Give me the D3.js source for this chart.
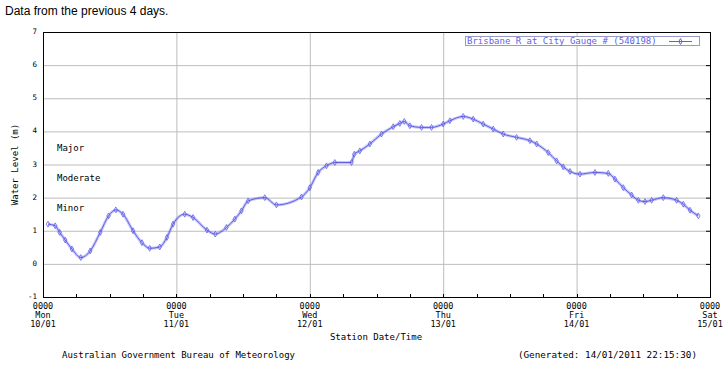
<!DOCTYPE html>
<html>
<head>
<meta charset="utf-8">
<script src="https://cdn.jsdelivr.net/npm/d3@7"></script>
<style>
  body { margin: 0; background: #fff; }
  svg text { font-family: "DejaVu Sans Mono", monospace; }
</style>
</head>
<body>
<svg id="chart" width="728" height="366"></svg>
<script>
// hours since Mon 10/01 00:00, water level (m)
const hours = [0.9, 2.2, 3.0, 4.0, 5.2, 6.8, 8.5, 10.3, 11.8, 13.1, 14.4, 16.2, 17.8, 19.2, 21.0, 22.3, 23.4,
  25.5, 27.0, 29.5, 31.0, 33.0, 34.5, 35.7, 36.9, 39.9, 42.0, 46.5, 48.0, 49.5, 51.0, 52.5, 55.5, 56.0, 57.0,
  58.8, 60.9, 63.0, 64.2, 65.0, 66.0, 68.1, 69.9, 72.0, 73.2, 75.6, 77.4, 79.2, 81.0, 82.8, 85.2, 87.6, 88.8,
  90.9, 92.4, 93.6, 94.8, 96.6, 99.3, 101.7, 102.9, 104.4, 105.9, 107.1, 108.3, 109.5, 111.6, 114.0, 115.2,
  116.4, 117.9];
const levels = [1.2, 1.15, 0.95, 0.72, 0.45, 0.19, 0.39, 0.95, 1.45, 1.63, 1.5, 1.0, 0.64, 0.47, 0.51, 0.8, 1.2,
  1.5, 1.4, 1.02, 0.9, 1.1, 1.35, 1.6, 1.9, 2.0, 1.78, 2.02, 2.3, 2.76, 2.96, 3.06, 3.06, 3.31, 3.41,
  3.62, 3.92, 4.14, 4.24, 4.3, 4.17, 4.12, 4.12, 4.22, 4.32, 4.45, 4.37, 4.22, 4.07, 3.92, 3.82, 3.72, 3.62,
  3.36, 3.11, 2.93, 2.79, 2.71, 2.76, 2.73, 2.56, 2.3, 2.08, 1.92, 1.88, 1.92, 2.0, 1.92, 1.8,
  1.62, 1.45];

const dayNames = ["Mon", "Tue", "Wed", "Thu", "Fri", "Sat"];
const dayDates = ["10/01", "11/01", "12/01", "13/01", "14/01", "15/01"];
const yTicks = [-1, 0, 1, 2, 3, 4, 5, 6, 7];
const floodLabels = ["Minor", "Moderate", "Major"];
const floodLevels = [1.7, 2.6, 3.5];

const blue = "#5f5fe8";
const svg = d3.select("#chart");

const x = d3.scaleLinear().domain([0, 120]).range([43, 710]);
const y = d3.scaleLinear().domain([-1, 7]).range([297, 32]);

// title
svg.append("text")
    .attr("x", 5).attr("y", 15)
    .style("font-family", "'Liberation Sans', Arial, sans-serif")
    .style("font-size", "12px")
    .text("Data from the previous 4 days.");

// grid
svg.append("g").selectAll("line")
    .data(yTicks.slice(1, -1))
    .join("line")
    .attr("x1", x(0)).attr("x2", x(120))
    .attr("y1", d => y(d) + 0.5).attr("y2", d => y(d) + 0.5)
    .attr("stroke", "#bdbdbd");

svg.append("g").selectAll("line")
    .data([24, 48, 72, 96])
    .join("line")
    .attr("x1", d => x(d) + 0.5).attr("x2", d => x(d) + 0.5)
    .attr("y1", y(7)).attr("y2", y(-1))
    .attr("stroke", "#bdbdbd");

// frame
svg.append("rect")
    .attr("x", x(0) + 0.5).attr("y", y(7) + 0.5)
    .attr("width", x(120) - x(0)).attr("height", y(-1) - y(7))
    .attr("fill", "none").attr("stroke", "#000");

// minor ticks every 6 hours on the bottom
svg.append("g").selectAll("line")
    .data(d3.range(6, 120, 6))
    .join("line")
    .attr("x1", d => Math.round(x(d)) + 0.5).attr("x2", d => Math.round(x(d)) + 0.5)
    .attr("y1", y(-1)).attr("y2", y(-1) - 3)
    .attr("stroke", "#000");

// ticks on the right
svg.append("g").selectAll("line")
    .data(yTicks.slice(1, -1))
    .join("line")
    .attr("x1", x(120)).attr("x2", x(120) - 4)
    .attr("y1", d => y(d) + 0.5).attr("y2", d => y(d) + 0.5)
    .attr("stroke", "#000");

// y tick labels
svg.append("g").selectAll("text")
    .data(yTicks)
    .join("text")
    .attr("x", 37).attr("y", d => y(d) + 2)
    .attr("text-anchor", "end")
    .style("font-size", "7.5px")
    .text(d => d);

// x labels
const xl = svg.append("g").selectAll("g")
    .data(dayNames)
    .join("g")
    .attr("transform", (d, i) => `translate(${x(i * 24)},0)`);
xl.append("text").attr("y", 308.5).text("0000");
xl.append("text").attr("y", 317.5).text(d => d);
xl.append("text").attr("y", 327).text((d, i) => dayDates[i]);
xl.selectAll("text").attr("text-anchor", "middle").style("font-size", "8.5px");

// axis titles
svg.append("text")
    .attr("x", 376).attr("y", 340)
    .attr("text-anchor", "middle")
    .style("font-size", "9px")
    .text("Station Date/Time");

svg.append("text")
    .attr("transform", `translate(18,${(y(7) + y(-1)) / 2}) rotate(-90)`)
    .attr("text-anchor", "middle")
    .style("font-size", "9px")
    .text("Water Level (m)");

// flood classification labels
svg.append("g").selectAll("text")
    .data(floodLabels)
    .join("text")
    .attr("x", 57).attr("y", (d, i) => y(floodLevels[i]) + 3)
    .style("font-size", "9px")
    .text(d => d);

// series
const pts = hours.map((h, i) => [h, levels[i]]);
const line = d3.line()
    .x(d => x(d[0])).y(d => y(d[1]))
    .curve(d3.curveMonotoneX);

svg.append("path")
    .datum(pts)
    .attr("d", line)
    .attr("fill", "none")
    .attr("stroke", blue)
    .attr("stroke-opacity", 0.35)
    .attr("stroke-width", 3);

svg.append("path")
    .datum(pts)
    .attr("d", line)
    .attr("fill", "none")
    .attr("stroke", blue)
    .attr("stroke-width", 1);

const diamond = d3.symbol().type(d3.symbolDiamond).size(10);
svg.append("g").selectAll("path")
    .data(pts)
    .join("path")
    .attr("transform", d => `translate(${x(d[0])},${y(d[1])})`)
    .attr("d", diamond)
    .attr("fill", "none")
    .attr("stroke", blue)
    .attr("stroke-width", 0.8);

// legend
const lg = svg.append("g");
lg.append("rect")
    .attr("x", 465.5).attr("y", 36.5)
    .attr("width", 234).attr("height", 9)
    .attr("fill", "#fff").attr("stroke", "#9a9ac8");
lg.append("text")
    .attr("x", 467).attr("y", 44)
    .style("font-size", "9px")
    .attr("fill", blue)
    .text("Brisbane R at City Gauge # (540198)");
lg.append("line")
    .attr("x1", 669).attr("x2", 692)
    .attr("y1", 41.5).attr("y2", 41.5)
    .attr("stroke", blue);
lg.append("path")
    .attr("transform", "translate(680.5,41.5)")
    .attr("d", diamond)
    .attr("fill", "none")
    .attr("stroke", blue);

// footer
svg.append("text")
    .attr("x", 62).attr("y", 358)
    .style("font-size", "9px")
    .text("Australian Government Bureau of Meteorology");
svg.append("text")
    .attr("x", 697).attr("y", 358)
    .attr("text-anchor", "end")
    .style("font-size", "9.3px")
    .text("(Generated: 14/01/2011 22:15:30)");
</script>
</body>
</html>
